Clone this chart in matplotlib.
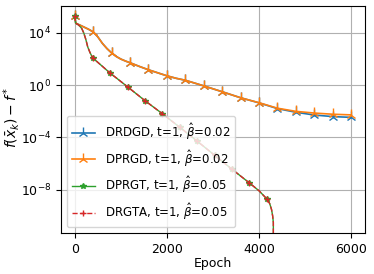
import matplotlib
matplotlib.use("Agg")
import matplotlib.pyplot as plt

plt.rcParams['font.size'] = 9

# DRDGD / DPRGD (markers every 400 epochs)
ep_pg = [0, 20, 100, 200, 300, 400, 500, 600, 700, 800, 900, 1000, 1100, 1200,
         1400, 1600, 1800, 2000, 2200, 2400, 2800, 3200, 3600, 4000, 4400,
         4800, 5200, 5600, 6000]
log_dprgd = [5.30, 4.75, 4.62, 4.45, 4.28, 4.08, 3.70, 3.20, 2.80, 2.47, 2.20, 2.00,
             1.85, 1.72, 1.44, 1.18, 0.95, 0.72, 0.53, 0.38, -0.05, -0.50, -0.96,
             -1.34, -1.76, -2.00, -2.13, -2.22, -2.27]
log_drdgd = [5.30, 4.75, 4.62, 4.45, 4.28, 4.08, 3.70, 3.20, 2.80, 2.47, 2.20, 2.00,
             1.85, 1.72, 1.44, 1.18, 0.95, 0.72, 0.53, 0.38, -0.05, -0.50, -0.96,
             -1.35, -1.79, -2.07, -2.28, -2.40, -2.46]
marks_pg = [i for i, e in enumerate(ep_pg) if e % 400 == 0]

# DPRGT / DRGTA
ep_gt = [0, 20, 86, 150, 195, 240, 281, 330, 389, 767, 1145, 1523, 1901, 2279,
         2657, 3035, 3413, 3791, 4000, 4169, 4230, 4270, 4295, 4310, 4318]
log_dprgt = [5.30, 4.75, 4.60, 4.35, 4.00, 3.50, 2.93, 2.50, 2.09, 0.93, -0.12,
             -1.18, -2.18, -3.22, -4.28, -5.36, -6.43, -7.48, -8.08, -8.70,
             -9.05, -9.50, -10.00, -10.50, None]
log_drgta = [5.30, 4.75, 4.60, 4.35, 4.00, 3.50, 2.93, 2.50, 2.09, 0.93, -0.12,
             -1.18, -2.18, -3.22, -4.28, -5.36, -6.43, -7.48, -8.08, -8.70,
             -9.05, -9.50, -10.00, -10.50, None]
marks_gt = [0, 8, 9, 10, 11, 12, 13, 14, 15, 16, 17, 19]

labels = [r"DRDGD, t=1, $\hat{\beta}$=0.02",
          r"DPRGD, t=1, $\hat{\beta}$=0.02",
          r"DPRGT, t=1, $\hat{\beta}$=0.05",
          r"DRGTA, t=1, $\hat{\beta}$=0.05"]


def vals(logs):
    return [0.0 if v is None else 10.0 ** v for v in logs]


fig = plt.figure(figsize=(3.74, 2.74), dpi=100)
ax = fig.add_axes([0.163, 0.150, 0.813, 0.828])

ax.plot(ep_pg, vals(log_drdgd), color='C0', marker='2', markersize=8,
        markevery=marks_pg, lw=1.2, label=labels[0])
ax.plot(ep_pg, vals(log_dprgd), color='C1', marker='2', markersize=8,
        markevery=marks_pg, lw=1.2, label=labels[1])
ax.plot(ep_gt, vals(log_dprgt), color='C2', marker='*', markersize=4,
        markevery=marks_gt, lw=1.0, label=labels[2])
ax.plot(ep_gt, vals(log_drgta), color='C3', marker='+', markersize=5,
        markevery=marks_gt, lw=1.0, ls='--', label=labels[3])

ax.set_yscale('log')
ax.set_xlim(-300, 6300)
ax.set_ylim(10 ** -11.3, 10 ** 6.06)
ax.set_yticks([1e-8, 1e-4, 1e0, 1e4])
ax.set_xticks([0, 2000, 4000, 6000])
ax.tick_params(labelsize=9)
ax.grid(True, which='major')
ax.set_xlabel('Epoch', fontsize=9, labelpad=1)
ax.set_ylabel(r'$f(\bar{x}_k) - f^*$', fontsize=10)
ax.yaxis.set_label_coords(-0.128, 0.51)
ax.legend(loc='lower left', fontsize=8.5)

fig.savefig('out.png', dpi=100)
